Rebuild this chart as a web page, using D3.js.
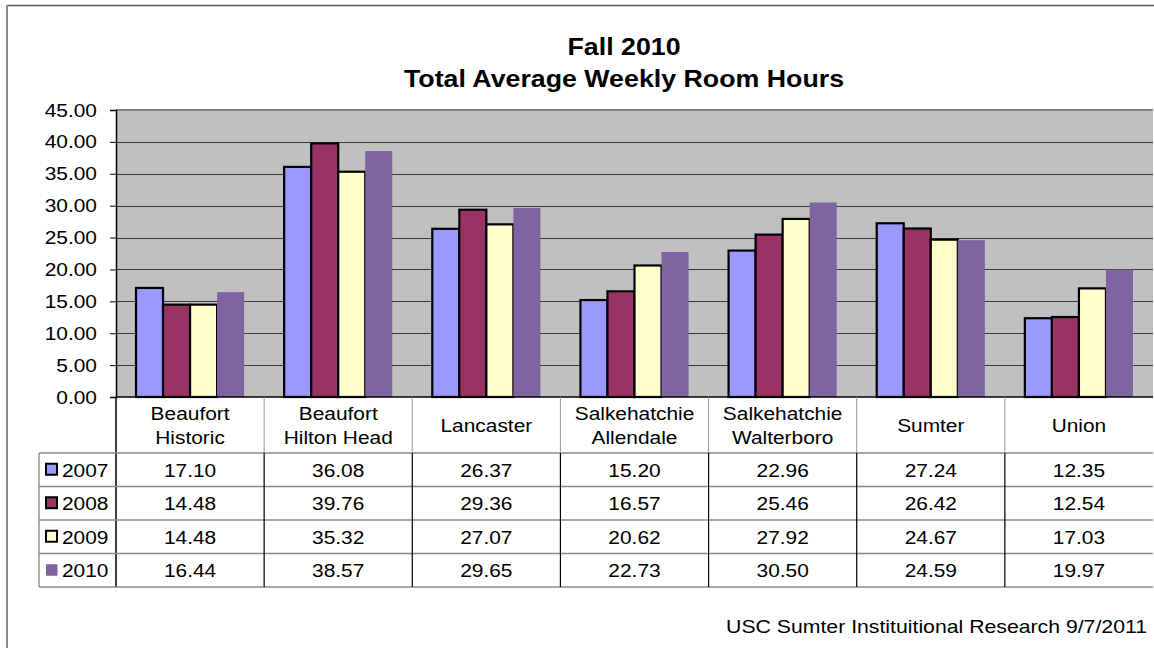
<!DOCTYPE html>
<html><head><meta charset="utf-8">
<script src="https://cdn.jsdelivr.net/npm/d3@7"></script>
<style>
html,body{margin:0;padding:0;background:#fff;}
svg{display:block;font-family:Arial,"Liberation Sans",sans-serif;}
</style></head>
<body>
<script>
const categories = [["Beaufort","Historic"],["Beaufort","Hilton Head"],["Lancaster"],["Salkehatchie","Allendale"],["Salkehatchie","Walterboro"],["Sumter"],["Union"]];
const seriesNames = ["2007","2008","2009","2010"];
const v2007 = [17.10,36.08,26.37,15.20,22.96,27.24,12.35];
const v2008 = [14.48,39.76,29.36,16.57,25.46,26.42,12.54];
const v2009 = [14.48,35.32,27.07,20.62,27.92,24.67,17.03];
const v2010 = [16.44,38.57,29.65,22.73,30.50,24.59,19.97];
const yTicks = [0,5,10,15,20,25,30,35,40,45];
const titleLines = ["Fall 2010","Total Average Weekly Room Hours"];
const footer = "USC Sumter Instituitional Research 9/7/2011";

const seriesValues = [v2007,v2008,v2009,v2010];
const colors = ["#9999FF","#993366","#FFFFCC","#8064A2"];
const stroked = [true,true,true,false];
const SX = 1.13;

const W=1154,H=648;
const svg = d3.select("body").append("svg").attr("width",W).attr("height",H);

// outer border
svg.append("line").attr("x1",7).attr("x2",W).attr("y1",5.5).attr("y2",5.5).attr("stroke","#555").attr("stroke-width",1.5);
svg.append("line").attr("x1",7).attr("x2",7).attr("y1",5).attr("y2",H).attr("stroke","#888").attr("stroke-width",2);

const L=116,R=1153,T=110,B=397;
const x0 = d3.scaleBand().domain(d3.range(categories.length)).range([L,R]).padding(0);
const bw = x0.bandwidth();
const x1 = d3.scaleBand().domain(seriesNames).range([bw*0.135,bw*0.865]).padding(0);
const y = d3.scaleLinear().domain([0,45]).range([B,T]);

function txt(g,x,yy,s,size,anchor,weight){
  return g.append("text").attr("transform",`translate(${x},${yy}) scale(${SX},1)`)
    .attr("text-anchor",anchor||"middle").attr("font-size",size).attr("font-weight",weight||"normal")
    .attr("fill","#000").text(s);
}

// title
titleLines.forEach((t,i)=>txt(svg,624,55+i*31.5,t,23.7,"middle","bold"));

// plot area
svg.append("rect").attr("x",L).attr("y",T).attr("width",R-L).attr("height",B-T).attr("fill","#C0C0C0");
svg.append("line").attr("x1",L).attr("x2",R).attr("y1",T).attr("y2",T).attr("stroke","#808080").attr("stroke-width",2);

// gridlines
svg.append("g").selectAll("line").data(yTicks.filter(d=>d>0 && d<45)).join("line")
  .attr("x1",L).attr("x2",R).attr("y1",d=>Math.round(y(d))+0.5).attr("y2",d=>Math.round(y(d))+0.5)
  .attr("stroke","#3a3a3a").attr("stroke-width",1);

// y axis
const yAxis = d3.axisLeft(y).tickValues(yTicks).tickSize(6).tickFormat(d3.format(".2f"));
const ga = svg.append("g").attr("transform",`translate(${L},0)`).call(yAxis);
ga.select(".domain").attr("stroke","#000").attr("stroke-width",1.5);
ga.selectAll(".tick line").attr("stroke","#000");
ga.selectAll(".tick text").remove();
yTicks.forEach(t=>{
  txt(svg,97,y(t)+6.5,d3.format(".2f")(t),18.5,"end");
});

// bars
const groups = svg.append("g").selectAll("g").data(categories.map((c,i)=>i)).join("g")
  .attr("transform",i=>`translate(${x0(i)},0)`);
groups.selectAll("rect").data(i=>seriesNames.map((s,k)=>({s,k,v:seriesValues[k][i]}))).join("rect")
  .attr("x",d=>x1(d.s)).attr("width",x1.bandwidth())
  .attr("y",d=>y(d.v)).attr("height",d=>B-y(d.v))
  .attr("fill",d=>colors[d.k])
  .attr("stroke",d=>stroked[d.k]?"#000":"none").attr("stroke-width",2.2);

// bottom axis line
svg.append("line").attr("x1",L).attr("x2",R).attr("y1",B).attr("y2",B).attr("stroke","#000").attr("stroke-width",1.5);

// data table
const hdrB = 453, rowH = 33.5, tL = 39;
const tbl = svg.append("g");
x0.domain().forEach(i=>{
  if(i>0) tbl.append("line").attr("x1",x0(i)).attr("x2",x0(i)).attr("y1",B).attr("y2",hdrB).attr("stroke","#999").attr("stroke-width",1);
});
tbl.append("line").attr("x1",L).attr("x2",L).attr("y1",B).attr("y2",hdrB+rowH*4).attr("stroke","#000").attr("stroke-width",1.5);
for(let r=0;r<=4;r++){
  tbl.append("line").attr("x1",tL).attr("x2",R).attr("y1",hdrB+r*rowH).attr("y2",hdrB+r*rowH).attr("stroke","#888").attr("stroke-width",1.3);
}
tbl.append("line").attr("x1",tL).attr("x2",tL).attr("y1",hdrB).attr("y2",hdrB+rowH*4).attr("stroke","#888").attr("stroke-width",1.3);
x0.domain().forEach(i=>{
  if(i>0) tbl.append("line").attr("x1",x0(i)).attr("x2",x0(i)).attr("y1",hdrB).attr("y2",hdrB+rowH*4).attr("stroke","#000").attr("stroke-width",1.2);
});
categories.forEach((c,i)=>{
  const cx = x0(i)+bw/2;
  if(c.length===2){ txt(tbl,cx,420,c[0],18.5); txt(tbl,cx,444,c[1],18.5); }
  else txt(tbl,cx,432,c[0],18.5);
});
seriesNames.forEach((s,k)=>{
  const cy = hdrB + k*rowH + rowH/2;
  const ks = stroked[k]?11:11.5;
  tbl.append("rect").attr("x",46).attr("y",cy-6).attr("width",ks).attr("height",ks)
    .attr("fill",colors[k]).attr("stroke",stroked[k]?"#000":"none").attr("stroke-width",2);
  txt(tbl,62,cy+7,s,18.5,"start");
  seriesValues[k].forEach((v,i)=>txt(tbl,x0(i)+bw/2,cy+7,d3.format(".2f")(v),18.5));
});

// footer
txt(svg,1147,633,footer,18.8,"end");
</script>
</body></html>
